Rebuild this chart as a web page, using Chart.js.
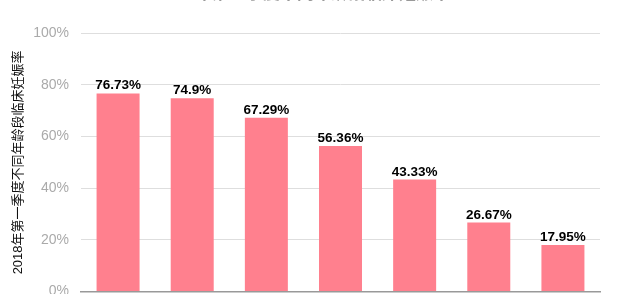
<!DOCTYPE html>
<html>
<head>
<meta charset="utf-8">
<style>
  html, body { margin: 0; padding: 0; background: #fff; overflow: hidden; }
  body { width: 640px; height: 294px; position: relative; }
  #wrap { position: absolute; left: 0; top: -20px; width: 640px; height: 355px; }
</style>
<script src="https://cdn.jsdelivr.net/npm/chart.js@4/dist/chart.umd.min.js"></script>
</head>
<body>
<div id="wrap"><canvas id="chart"></canvas></div>
<script>
const FONT = '"Liberation Sans", "Noto Sans CJK SC", sans-serif'

// --- data ---
const ageGroups = ['≤30岁', '31-33岁', '34-35岁', '36-37岁', '38-39岁', '40-42岁', '≥43岁']
const pregnancyRate = [76.73, 74.9, 67.29, 56.36, 43.33, 26.67, 17.95]
const rateLabels = ['76.73%', '74.9%', '67.29%', '56.36%', '43.33%', '26.67%', '17.95%']
const yTicks = [0, 20, 40, 60, 80, 100]
const chartTitle = '2018年第一季度不同年龄段临床妊娠率'
const yTitle = '2018年第一季度不同年龄段临床妊娠率'

// value labels above each bar
const barLabels = {
  id: 'barLabels',
  afterDatasetsDraw(chart) {
    const { ctx } = chart
    const meta = chart.getDatasetMeta(0)
    ctx.save()
    ctx.font = 'bold 13.5px ' + FONT
    ctx.fillStyle = '#000'
    ctx.textAlign = 'center'
    ctx.textBaseline = 'alphabetic'
    meta.data.forEach((bar, i) => {
      ctx.fillText(rateLabels[i], bar.x, bar.y - 4)
    })
    ctx.restore()
  },
}

new Chart(document.getElementById('chart'), {
  type: 'bar',
  data: {
    labels: ageGroups,
    datasets: [{
      data: pregnancyRate,
      backgroundColor: '#ff808e',
      categoryPercentage: 1,
      barPercentage: 0.58,
    }],
  },
  options: {
    responsive: true,
    maintainAspectRatio: false,
    animation: false,
    layout: { padding: { left: 7, right: 40, top: 0, bottom: 12 } },
    plugins: {
      legend: { display: false },
      tooltip: { enabled: false },
      title: {
        display: true,
        text: chartTitle,
        color: '#999',
        font: { family: FONT, size: 17 },
        padding: { top: 4, bottom: 29 },
      },
    },
    scales: {
      x: {
        grid: { display: false, drawTicks: false },
        border: { color: '#999', width: 1.5 },
        ticks: { color: '#666', font: { family: FONT, size: 13 }, padding: 8 },
      },
      y: {
        min: 0,
        max: 100,
        afterBuildTicks(scale) {
          scale.ticks = yTicks.map(v => ({ value: v }))
        },
        afterFit(scale) {
          scale.width = 74
        },
        grid: { color: '#dedede', drawTicks: false },
        border: { display: false },
        ticks: {
          color: '#aaa',
          padding: 12,
          font: { family: FONT, size: 14 },
          callback: v => v + '%',
        },
        title: {
          display: true,
          text: yTitle,
          color: '#111',
          font: { family: FONT, size: 13 },
          padding: { top: 4, bottom: 4 },
        },
      },
    },
  },
  plugins: [barLabels],
})
</script>
</body>
</html>
